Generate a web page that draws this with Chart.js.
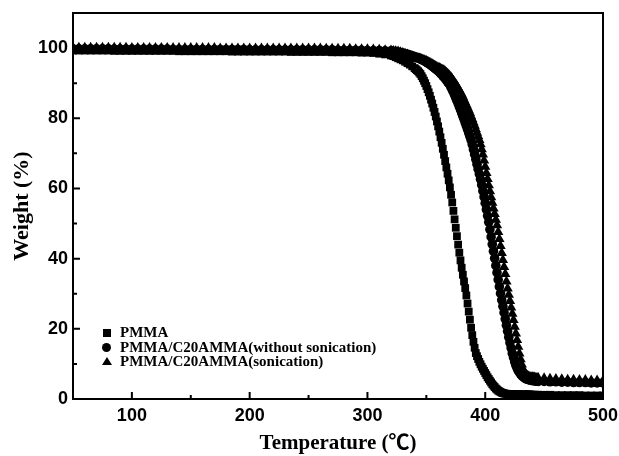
<!DOCTYPE html>
<html>
<head>
<meta charset="utf-8">
<script src="https://cdn.jsdelivr.net/npm/chart.js@4.4.0/dist/chart.umd.min.js"></script>
<style>
  body { margin: 0; background: #fff; }
  #wrap { position: relative; width: 619px; height: 456px; }
  #legend { position: absolute; left: 100px; top: 325px; }
  .leg-row { position: absolute; left: 0; height: 15px; white-space: nowrap;
    font: bold 15px 'Liberation Serif', serif; line-height: 15px; color: #000; }
  .leg-row span.txt { position: absolute; left: 20px; top: 0; }
  .mk { position: absolute; background: #000; }
  .mk.square { left: 3px; top: 4px; width: 8px; height: 8px; }
  .mk.circle { left: 2px; top: 3px; width: 9px; height: 9px; border-radius: 50%; }
  .mk.triangle { left: 2px; top: 3px; width: 0; height: 0; background: none;
    border-left: 5px solid transparent; border-right: 5px solid transparent; border-bottom: 8px solid #000; }
</style>
</head>
<body>
<div id="wrap">
  <canvas id="tga" width="619" height="456"></canvas>
  <div id="legend"></div>
</div>
<script>
// temperature grid (°C) shared by the three curves
const temps = [
  50, 55, 60, 65, 70, 75, 80, 85, 90, 95, 100, 105, 110, 115, 120, 125, 130, 135, 140, 145,
  150, 155, 160, 165, 170, 175, 180, 185, 190, 195, 200, 205, 210, 215, 220, 225, 230, 235, 240, 245,
  250, 255, 260, 265, 270, 275, 280, 285, 290, 295, 300, 305, 310, 315,
  320, 322, 324, 326, 328, 330, 332, 334, 336, 338,
  340, 341, 342, 343, 344, 345, 346, 347, 348, 349,
  350, 351, 352, 353, 354, 355, 356, 357, 358, 359,
  360, 361, 362, 363, 364, 365, 366, 367, 368, 369,
  370, 371, 372, 373, 374, 375, 376, 377, 378, 379,
  380, 381, 382, 383, 384, 385, 386, 387, 388, 389,
  390, 391, 392, 393, 394, 395, 396, 397, 398, 399,
  400, 401, 402, 403, 404, 405, 406, 407, 408, 409,
  410, 411, 412, 413, 414, 415, 416, 417, 418, 419,
  420, 421, 422, 423, 424, 425, 426, 427, 428, 429,
  430, 431, 432, 433, 434, 435, 436, 437, 438, 439,
  440, 441, 442, 443, 444, 445,
  450, 455, 460, 465, 470, 475, 480, 485, 490, 495, 500
];

const pmmaWeight = [
  99.3, 99.3, 99.3, 99.3, 99.3, 99.3, 99.3, 99.2, 99.2, 99.2, 99.2, 99.2, 99.2, 99.2, 99.2, 99.2, 99.2, 99.2, 99.1, 99.1,
  99.1, 99.1, 99.1, 99.1, 99.1, 99.1, 99.1, 99.0, 99.0, 99.0, 99.0, 99.0, 99.0, 99.0, 99.0, 99.0, 99.0, 98.9, 98.9, 98.9,
  98.9, 98.9, 98.9, 98.9, 98.8, 98.8, 98.8, 98.8, 98.8, 98.7, 98.7, 98.6, 98.4, 98.2,
  97.9, 97.7, 97.4, 97.1, 96.8, 96.5, 96.1, 95.7, 95.3, 94.8,
  94.3, 94.0, 93.7, 93.4, 93.0, 92.6, 92.0, 91.4, 90.7, 90.0,
  89.2, 88.3, 87.4, 86.4, 85.3, 84.2, 83.0, 81.8, 80.5, 79.1,
  77.7, 76.2, 74.6, 73.0, 71.3, 69.6, 67.8, 66.0, 64.2, 62.3,
  60.3, 58.2, 56.0, 53.6, 51.2, 48.8, 46.4, 44.0, 41.7, 39.5,
  37.4, 35.4, 33.5, 31.6, 29.5, 27.2, 24.9, 22.6, 20.3, 18.2,
  16.3, 14.6, 13.1, 12.2, 11.4, 10.6, 9.9, 9.2, 8.6, 8.0,
  7.4, 6.8, 6.2, 5.7, 5.2, 4.7, 4.2, 3.8, 3.4, 3.0,
  2.7, 2.4, 2.2, 2.0, 1.8, 1.7, 1.6, 1.5, 1.5, 1.4,
  1.4, 1.4, 1.4, 1.4, 1.4, 1.3, 1.3, 1.3, 1.3, 1.3,
  1.3, 1.3, 1.3, 1.3, 1.3, 1.3, 1.3, 1.3, 1.3, 1.2,
  1.2, 1.2, 1.2, 1.2, 1.2, 1.2,
  1.2, 1.2, 1.1, 1.1, 1.1, 1.1, 1.1, 1.0, 1.0, 1.0, 1.0
];

const noSonicationWeight = [
  99.8, 99.8, 99.8, 99.8, 99.8, 99.8, 99.8, 99.7, 99.7, 99.7, 99.7, 99.7, 99.7, 99.7, 99.7, 99.7, 99.7, 99.6, 99.6, 99.6,
  99.6, 99.6, 99.6, 99.6, 99.6, 99.6, 99.6, 99.6, 99.6, 99.6, 99.5, 99.5, 99.5, 99.5, 99.5, 99.5, 99.5, 99.5, 99.5, 99.5,
  99.5, 99.5, 99.5, 99.5, 99.5, 99.4, 99.4, 99.4, 99.4, 99.4, 99.3, 99.3, 99.3, 99.2,
  99.2, 99.1, 99.0, 98.9, 98.7, 98.6, 98.4, 98.2, 98.0, 97.8,
  97.5, 97.4, 97.3, 97.2, 97.0, 96.9, 96.7, 96.6, 96.4, 96.2,
  96.0, 95.8, 95.6, 95.4, 95.1, 94.9, 94.6, 94.3, 94.1, 93.8,
  93.5, 93.2, 92.8, 92.5, 92.1, 91.7, 91.3, 90.9, 90.4, 90.0,
  89.5, 88.8, 88.1, 87.4, 86.6, 85.8, 85.0, 84.2, 83.3, 82.4,
  81.5, 80.6, 79.7, 78.7, 77.8, 76.8, 75.8, 74.8, 73.8, 72.5,
  71.1, 69.7, 68.3, 66.9, 65.5, 64.1, 62.6, 61.0, 59.3, 57.6,
  55.8, 54.0, 52.2, 50.4, 48.3, 46.2, 44.1, 42.1, 40.1, 38.0,
  36.0, 34.0, 32.0, 30.1, 28.2, 26.4, 24.6, 22.8, 21.0, 19.3,
  17.6, 16.0, 14.5, 13.0, 11.8, 10.6, 9.6, 8.8, 8.1, 7.6,
  7.1, 6.7, 6.4, 6.1, 5.9, 5.7, 5.6, 5.5, 5.4, 5.3,
  5.3, 5.2, 5.2, 5.1, 5.1, 5.0,
  5.0, 4.9, 4.9, 4.8, 4.8, 4.7, 4.7, 4.7, 4.6, 4.6, 4.6
];

const sonicationWeight = [
  100.1, 100.1, 100.1, 100.1, 100.1, 100.1, 100.1, 100.1, 100.1, 100.1, 100.0, 100.0, 100.0, 100.0, 100.0, 100.0, 100.0, 100.0, 100.0, 100.0,
  100.0, 100.0, 100.0, 100.0, 100.0, 99.9, 99.9, 99.9, 99.9, 99.9, 99.9, 99.9, 99.9, 99.9, 99.9, 99.9, 99.9, 99.9, 99.9, 99.9,
  99.9, 99.9, 99.9, 99.8, 99.8, 99.8, 99.8, 99.8, 99.7, 99.7, 99.7, 99.6, 99.5, 99.4,
  99.3, 99.2, 99.1, 99.0, 98.8, 98.6, 98.4, 98.2, 97.9, 97.7,
  97.4, 97.3, 97.2, 97.1, 97.0, 96.9, 96.8, 96.7, 96.6, 96.4,
  96.3, 96.1, 96.0, 95.8, 95.6, 95.4, 95.2, 95.0, 94.8, 94.6,
  94.4, 94.3, 94.1, 93.9, 93.8, 93.6, 93.3, 93.0, 92.7, 92.4,
  92.0, 91.6, 91.2, 90.7, 90.2, 89.7, 89.2, 88.6, 88.0, 87.4,
  86.8, 86.1, 85.3, 84.6, 83.8, 83.1, 82.3, 81.5, 80.6, 79.7,
  78.8, 77.9, 76.9, 75.9, 74.9, 73.8, 72.6, 71.2, 69.7, 68.0,
  66.2, 64.4, 62.7, 60.9, 59.2, 57.5, 55.9, 54.3, 52.7, 51.1,
  49.5, 47.6, 45.6, 43.6, 41.6, 39.6, 37.6, 35.6, 33.5, 31.5,
  29.7, 27.9, 26.1, 24.3, 22.5, 20.6, 18.7, 16.8, 14.9, 13.0,
  11.3, 9.8, 8.6, 7.7, 7.1, 6.8, 6.6, 6.4, 6.3, 6.2,
  6.2, 6.1, 6.1, 6.0, 6.0, 6.0,
  5.9, 5.8, 5.7, 5.6, 5.5, 5.5, 5.4, 5.4, 5.3, 5.3, 5.2
];

const seriesLabels = ['PMMA', 'PMMA/C20AMMA(without sonication)', 'PMMA/C20AMMA(sonication)'];
const seriesShapes = ['square', 'circle', 'triangle'];

function toPoints(values) {
  return temps.map((t, i) => ({ x: t, y: values[i] }));
}

// inward tick marks and the closed frame round the plot
const frameAndTicks = {
  id: 'frameAndTicks',
  afterDatasetsDraw(chart) {
    const { ctx, chartArea: a, scales } = chart;
    ctx.save();
    ctx.strokeStyle = '#000';
    ctx.lineWidth = 2;
    ctx.strokeRect(a.left, a.top, a.right - a.left, a.bottom - a.top);
    ctx.beginPath();
    scales.x.ticks.forEach(t => {
      const px = scales.x.getPixelForValue(t.value);
      const len = t.value % 100 === 0 ? 7 : 4;
      ctx.moveTo(px, a.bottom);
      ctx.lineTo(px, a.bottom - len);
    });
    scales.y.ticks.forEach(t => {
      const py = scales.y.getPixelForValue(t.value);
      const len = t.value % 20 === 0 ? 7 : 4;
      ctx.moveTo(a.left, py);
      ctx.lineTo(a.left + len, py);
    });
    ctx.stroke();
    ctx.restore();
  }
};

const tickFont = { family: "'Liberation Sans', Arial, sans-serif", weight: 'bold', size: 18 };
const titleFamily = "'Liberation Serif', 'Noto Sans CJK SC', serif";

new Chart(document.getElementById('tga'), {
  type: 'scatter',
  data: {
    datasets: [
      { label: seriesLabels[0], data: toPoints(pmmaWeight), pointStyle: 'rect', pointRadius: 5.5,
        backgroundColor: '#000', borderColor: '#000', pointBorderWidth: 0 },
      { label: seriesLabels[1], data: toPoints(noSonicationWeight), pointStyle: 'circle', pointRadius: 4.8,
        backgroundColor: '#000', borderColor: '#000', pointBorderWidth: 0 },
      { label: seriesLabels[2], data: toPoints(sonicationWeight), pointStyle: 'triangle', pointRadius: 6,
        backgroundColor: '#000', borderColor: '#000', pointBorderWidth: 0 }
    ]
  },
  options: {
    responsive: false,
    animation: false,
    events: [],
    layout: { padding: { top: 13, right: 16, left: 0, bottom: 0 } },
    plugins: { legend: { display: false }, tooltip: { enabled: false } },
    scales: {
      x: {
        type: 'linear', min: 50, max: 500,
        afterFit: s => { s.height = 57; s.paddingLeft = 0; s.paddingRight = 0; },
        grid: { display: false, drawTicks: false },
        border: { display: false },
        ticks: { stepSize: 50, autoSkip: false, maxRotation: 0, padding: 6, color: '#000', font: tickFont,
          callback: v => (v % 100 === 0 ? v : '') },
        title: { display: true, text: 'Temperature (℃)', color: '#000',
          font: { family: titleFamily, weight: 'bold', size: 21 }, padding: { top: 0, bottom: 0 } }
      },
      y: {
        min: 0, max: 110,
        afterFit: s => { s.width = 73; s.paddingTop = 0; s.paddingBottom = 0; },
        grid: { display: false, drawTicks: false },
        border: { display: false },
        ticks: { stepSize: 10, autoSkip: false, padding: 5, color: '#000', font: tickFont,
          callback: v => (v % 20 === 0 && v <= 100 ? v : '') },
        title: { display: true, text: 'Weight (%)', color: '#000',
          font: { family: titleFamily, weight: 'bold', size: 22 }, padding: { top: 9, bottom: 0 } }
      }
    }
  },
  plugins: [frameAndTicks]
});

// legend inside the plot, lower left
const legendBox = document.getElementById('legend');
seriesLabels.forEach((label, i) => {
  const row = document.createElement('div');
  row.className = 'leg-row';
  row.style.top = (i * 14.5) + 'px';
  const mark = document.createElement('span');
  mark.className = 'mk ' + seriesShapes[i];
  const txt = document.createElement('span');
  txt.className = 'txt';
  txt.textContent = label;
  row.appendChild(mark);
  row.appendChild(txt);
  legendBox.appendChild(row);
});
</script>
</body>
</html>
